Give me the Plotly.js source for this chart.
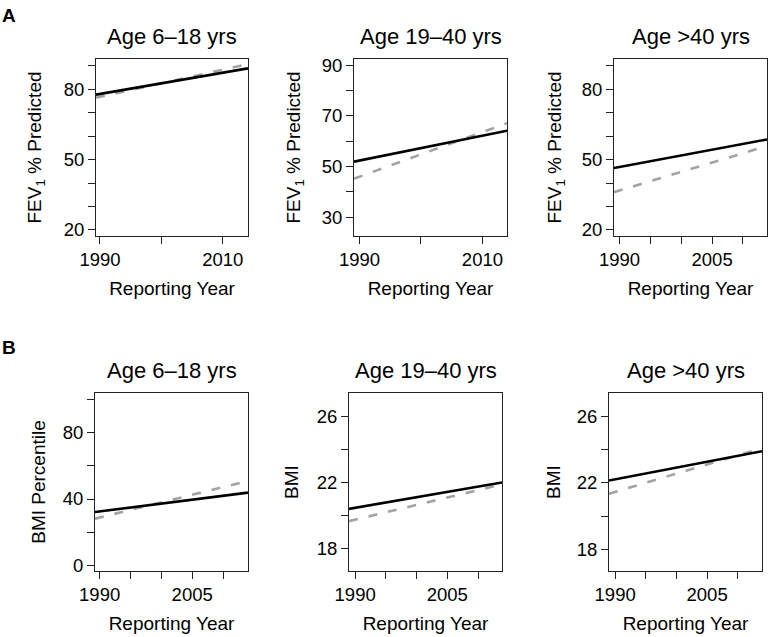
<!DOCTYPE html>
<html>
<head>
<meta charset="utf-8">
<script src="https://cdn.plot.ly/plotly-3.0.1.min.js"></script>
<style>html,body{margin:0;padding:0;background:#fff;}#chart{width:770px;height:637px;}</style>
</head>
<body>
<div id="chart"></div>
<script>
// ---- Data ----
const panelTitles = ["Age 6\u201318 yrs", "Age 19\u201340 yrs", "Age >40 yrs", "Age 6\u201318 yrs", "Age 19\u201340 yrs", "Age >40 yrs"];
const yTitles = ["FEV<sub>1</sub> % Predicted", "FEV<sub>1</sub> % Predicted", "FEV<sub>1</sub> % Predicted", "BMI Percentile", "BMI", "BMI"];
const xTitle = "Reporting Year";

// x extents (start / end of each fitted line, years)
const yearsA1 = [1989.35, 2014.1];
const yearsA2 = [1989.1, 2014.0];
const yearsA3 = [1989.1, 2013.9];
const yearsB1 = [1989.25, 2014.05];
const yearsB2 = [1989.0, 2013.9];
const yearsB3 = [1989.0, 2013.95];

// FEV1 % predicted: solid (black) and dashed (gray) trend lines
const fevChildSolid  = [77.7, 88.9];
const fevChildDashed = [76.4, 90.7];
const fevYoungSolid  = [51.9, 64.1];
const fevYoungDashed = [45.2, 67.1];
const fevOldSolid    = [46.4, 58.6];
const fevOldDashed   = [36.1, 55.8];

// BMI percentile / BMI
const bmiPctSolid    = [32.1, 43.9];
const bmiPctDashed   = [28.1, 50.9];
const bmiYoungSolid  = [20.42, 22.02];
const bmiYoungDashed = [19.68, 21.9];
const bmiOldSolid    = [22.14, 23.9];
const bmiOldDashed   = [21.34, 24.09];

// Tick values (labelled) and minor ticks (unlabelled)
const xTicks10 = [1990, 2010];
const xMinor10 = [2000];
const xTicks5 = [1990, 2005];
const xMinor5 = [1995, 2000, 2010];
const yTicksFevA = [20, 50, 80];
const yMinorFevA = [30, 40, 60, 70, 90];
const yTicksFevB = [30, 50, 70, 90];
const yMinorFevB = [40, 60, 80];
const yTicksPct = [0, 40, 80];
const yMinorPct = [20, 60, 100];
const yTicksBmi = [18, 22, 26];
const yMinorBmi = [20, 24];

// ---- Layout geometry ----
const W = 770, H = 637;
const FONT = "Liberation Sans, Arial, Helvetica, sans-serif";
const panels = [
  {years: yearsA1, solid: fevChildSolid, dashed: fevChildDashed, box: [96, 248, 59, 236],  xr: [1989.35, 2014.1], yr: [17.4, 92.9],  xt: xTicks10, xm: xMinor10, yt: yTicksFevA, ym: yMinorFevA, st: 17},
  {years: yearsA2, solid: fevYoungSolid, dashed: fevYoungDashed, box: [354, 507, 59, 236], xr: [1989.1, 2014.0],  yr: [22.6, 92.4],  xt: xTicks10, xm: xMinor10, yt: yTicksFevB, ym: yMinorFevB, st: 16},
  {years: yearsA3, solid: fevOldSolid, dashed: fevOldDashed, box: [614, 767, 59, 236],     xr: [1989.1, 2013.9],  yr: [17.4, 92.9],  xt: xTicks5,  xm: xMinor5,  yt: yTicksFevA, ym: yMinorFevA, st: 15},
  {years: yearsB1, solid: bmiPctSolid, dashed: bmiPctDashed, box: [95, 248, 393, 571],     xr: [1989.25, 2014.05], yr: [-3.6, 104.2], xt: xTicks5, xm: xMinor5,  yt: yTicksPct,  ym: yMinorPct, st: 12},
  {years: yearsB2, solid: bmiYoungSolid, dashed: bmiYoungDashed, box: [349, 502, 393, 571], xr: [1989.0, 2013.9], yr: [16.67, 27.42], xt: xTicks5, xm: xMinor5, yt: yTicksBmi, ym: yMinorBmi, st: 13},
  {years: yearsB3, solid: bmiOldSolid, dashed: bmiOldDashed, box: [609, 762, 393, 571],    xr: [1989.0, 2013.95], yr: [16.7, 27.4],  xt: xTicks5,  xm: xMinor5,  yt: yTicksBmi, ym: yMinorBmi, st: 11}
];

const traces = [];
const layout = {
  width: W, height: H,
  margin: {l: 0, r: 0, t: 0, b: 0},
  paper_bgcolor: "#fff", plot_bgcolor: "#fff",
  showlegend: false,
  font: {family: FONT, color: "#000", size: 18},
  annotations: []
};

panels.forEach((p, i) => {
  const n = i + 1;
  const xa = "x" + (n === 1 ? "" : n), ya = "y" + (n === 1 ? "" : n);
  traces.push({x: p.years, y: p.dashed, xaxis: xa, yaxis: ya, mode: "lines", type: "scatter",
    line: {color: "#a3a3a3", width: 2.6, dash: "9px,11px"}, hoverinfo: "skip"});
  traces.push({x: p.years, y: p.solid, xaxis: xa, yaxis: ya, mode: "lines", type: "scatter",
    line: {color: "#000", width: 2.6}, hoverinfo: "skip"});
  const [x0, x1, y0, y1] = p.box;
  const axBase = {showgrid: false, zeroline: false, showline: true, mirror: true, linecolor: "#222", linewidth: 1,
    ticks: "outside", ticklen: 7, tickwidth: 1, tickcolor: "#222", tickfont: {family: FONT, size: 18.5, color: "#000"},
    fixedrange: true, tickmode: "array"};
  layout["xaxis" + (n === 1 ? "" : n)] = Object.assign({}, axBase, {
    domain: [x0 / W, x1 / W], anchor: ya, range: p.xr, tickvals: p.xt, ticktext: p.xt.map(String),
    minor: {tickmode: "array", tickvals: p.xm, ticks: "outside", ticklen: 7, tickwidth: 1, tickcolor: "#222", showgrid: false},
    title: {text: xTitle, font: {family: FONT, size: 19}, standoff: 12}
  });
  layout["yaxis" + (n === 1 ? "" : n)] = Object.assign({}, axBase, {
    domain: [1 - y1 / H, 1 - y0 / H], anchor: xa, range: p.yr, tickvals: p.yt, ticktext: p.yt.map(String),
    minor: {tickmode: "array", tickvals: p.ym, ticks: "outside", ticklen: 7, tickwidth: 1, tickcolor: "#222", showgrid: false},
    title: {text: yTitles[i], font: {family: FONT, size: 19}, standoff: p.st}
  });
  layout.annotations.push({text: panelTitles[i], xref: "paper", yref: "paper",
    x: (x0 + x1) / 2 / W, y: 1 - (y0 - 8) / H, xanchor: "center", yanchor: "bottom",
    showarrow: false, font: {family: FONT, size: 22, color: "#000"}});
});

layout.annotations.push({text: "<b>A</b>", xref: "paper", yref: "paper", x: 0, y: 1 - 3 / H,
  xanchor: "left", yanchor: "top", showarrow: false, font: {family: FONT, size: 19, color: "#000"}});
layout.annotations.push({text: "<b>B</b>", xref: "paper", yref: "paper", x: 0, y: 1 - 335 / H,
  xanchor: "left", yanchor: "top", showarrow: false, font: {family: FONT, size: 19, color: "#000"}});

Plotly.newPlot("chart", traces, layout, {staticPlot: true, displayModeBar: false});
</script>
</body>
</html>
